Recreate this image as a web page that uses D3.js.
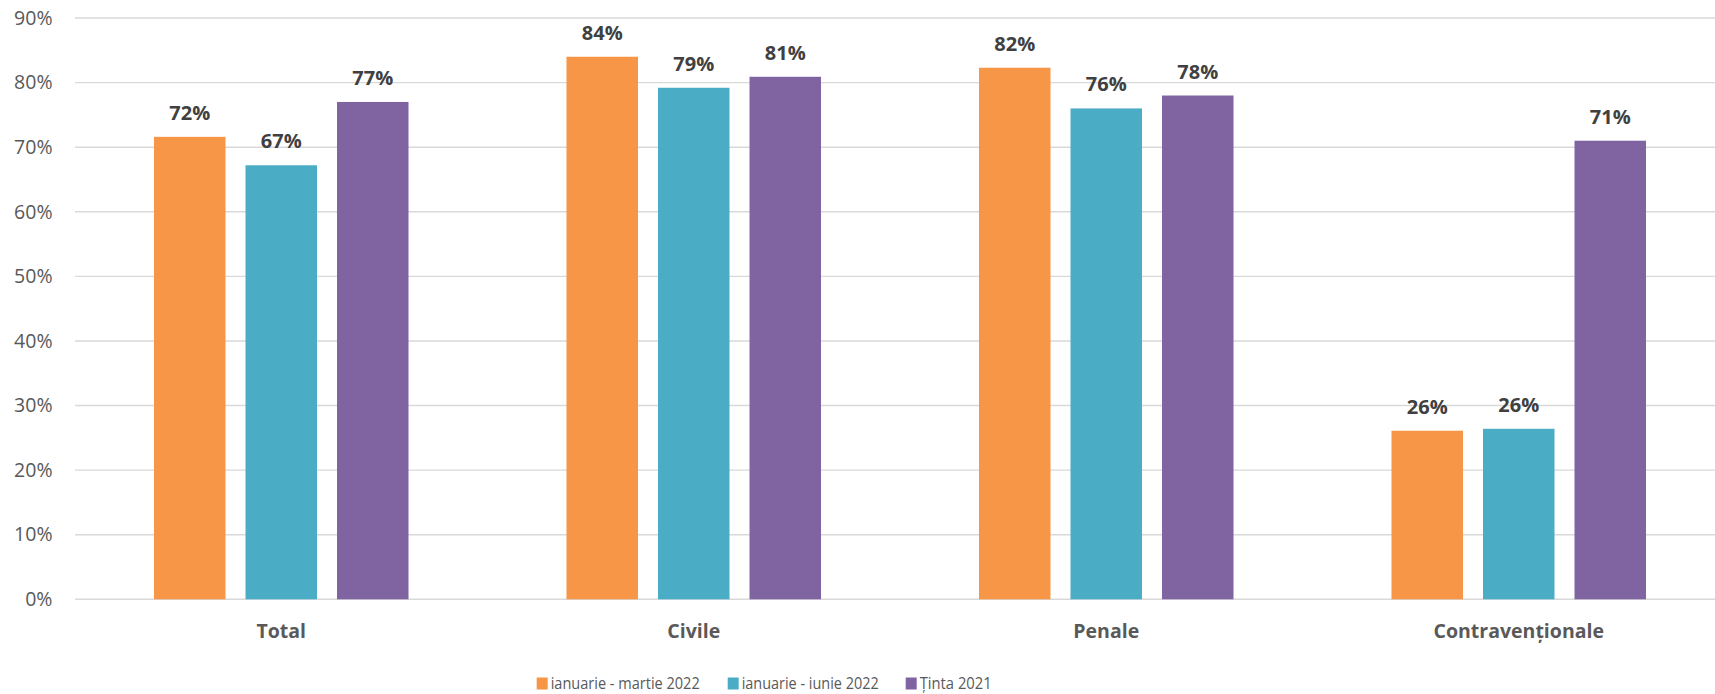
<!DOCTYPE html>
<html>
<head>
<meta charset="utf-8">
<script src="https://cdn.jsdelivr.net/npm/d3@7/dist/d3.min.js"></script>
<style>
  html, body { margin: 0; padding: 0; background: #fff; }
  svg { display: block; }
</style>
</head>
<body>
<svg id="chart" width="1715" height="694"></svg>
<script>
const categories = ["Total", "Civile", "Penale", "Contravenționale"];
const seriesNames = ["ianuarie - martie 2022", "ianuarie - iunie 2022", "Ținta 2021"];
const seriesColors = ["#F79646", "#4BACC6", "#8064A2"];
const valuesMartie = [0.716, 0.840, 0.823, 0.261];
const valuesIunie  = [0.672, 0.792, 0.760, 0.264];
const valuesTinta  = [0.770, 0.809, 0.780, 0.710];
const yTicks = [0, 0.1, 0.2, 0.3, 0.4, 0.5, 0.6, 0.7, 0.8, 0.9];

const seriesValues = [valuesMartie, valuesIunie, valuesTinta];

const svg = d3.select("#chart");
const y = d3.scaleLinear().domain([0, 0.9]).range([599.3, 18]);
const x0 = d3.scaleBand().domain(categories).range([75, 1725]).paddingInner(0.383).paddingOuter(0.1915);
const x1 = d3.scaleBand().domain(seriesNames).range([0, x0.bandwidth()]).paddingInner(0.2186).paddingOuter(0);

const fmt = d3.format(".0%");

// gridlines
svg.append("g").selectAll("line").data(yTicks).join("line")
  .attr("x1", 75).attr("x2", 1715)
  .attr("y1", d => y(d)).attr("y2", d => y(d))
  .attr("stroke", "#D9D9D9").attr("stroke-width", 1.4);

// y axis labels
const yAxis = d3.axisLeft(y).tickValues(yTicks).tickFormat(fmt).tickSize(0).tickPadding(0);
const yg = svg.append("g").attr("transform", "translate(52.5,0)").call(yAxis);
yg.select(".domain").remove();
yg.selectAll("text")
  .attr("font-family", "'Open Sans', sans-serif")
  .attr("font-size", 19.5)
  .attr("fill", "#595959");

// x axis labels
const xAxis = d3.axisBottom(x0).tickSize(0).tickPadding(0);
const xg = svg.append("g").attr("transform", "translate(0,624)").call(xAxis);
xg.select(".domain").remove();
xg.selectAll("text")
  .attr("font-family", "'Open Sans', sans-serif")
  .attr("font-size", 19.5)
  .attr("font-weight", "bold")
  .attr("fill", "#595959");

// bars
const groups = svg.append("g").selectAll("g").data(categories).join("g")
  .attr("transform", c => `translate(${x0(c)},0)`);

groups.each(function(c, ci) {
  const g = d3.select(this);
  seriesNames.forEach((s, si) => {
    const v = seriesValues[si][ci];
    g.append("rect")
      .attr("x", x1(s))
      .attr("y", y(v))
      .attr("width", x1.bandwidth())
      .attr("height", y(0) - y(v))
      .attr("fill", seriesColors[si]);
    g.append("text")
      .attr("x", x1(s) + x1.bandwidth() / 2)
      .attr("y", y(v) - 17)
      .attr("text-anchor", "middle")
      .attr("font-family", "'Open Sans', sans-serif")
      .attr("font-size", 20)
      .attr("font-weight", "bold")
      .attr("fill", "#404040")
      .text(fmt(v));
  });
});

// legend
const legendX = [536.7, 727.7, 905.7];
const legendW = [149, 137, 72];
const legend = svg.append("g");
seriesNames.forEach((s, i) => {
  legend.append("rect")
    .attr("x", legendX[i]).attr("y", 677.5)
    .attr("width", 11).attr("height", 12)
    .attr("fill", seriesColors[i]);
  legend.append("text")
    .attr("x", legendX[i] + 14)
    .attr("y", 689)
    .attr("font-family", "'Open Sans', sans-serif")
    .attr("font-size", 17)
    .attr("textLength", legendW[i])
    .attr("lengthAdjust", "spacingAndGlyphs")
    .attr("fill", "#595959")
    .text(s);
});
</script>
</body>
</html>
